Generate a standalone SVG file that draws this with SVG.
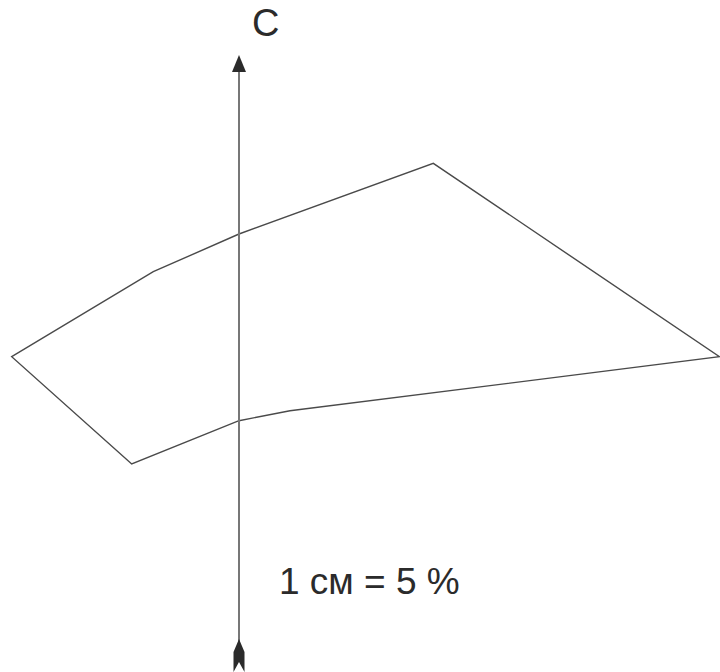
<svg xmlns="http://www.w3.org/2000/svg" width="720" height="672" viewBox="0 0 720 672">
<style>
.shape{fill:none;stroke:#4a4a4a;stroke-width:1.4;stroke-linejoin:miter}
.axis{stroke:#777;stroke-width:2;fill:none}
.head{fill:#2b2b2b;stroke:none}
.lbl{font-family:"Liberation Sans",Arial,sans-serif;fill:#2b2b2b}
</style>
<rect width="720" height="672" fill="#fff"/>
<g id="polygon">
<polygon class="shape" points="11.7,356.7 153.3,271.7 239,234 433.3,163.3 719.5,356.7 290,410.8 239,420.7 131.7,464"/>
</g>
<g id="connectors">
<line class="axis" x1="239" y1="70" x2="239" y2="645"/>
<polygon class="head" points="239,55 232,72 246,72"/>
<polygon class="head" points="239,639 244.5,652 244.5,672 239,662 233.5,672 233.5,652"/>
</g>
<g id="label-c">
<text class="lbl" x="252" y="36" font-size="38">С</text>
</g>
<g id="label-scale">
<text class="lbl" x="279" y="594" font-size="37">1 см = 5 %</text>
</g>
</svg>
